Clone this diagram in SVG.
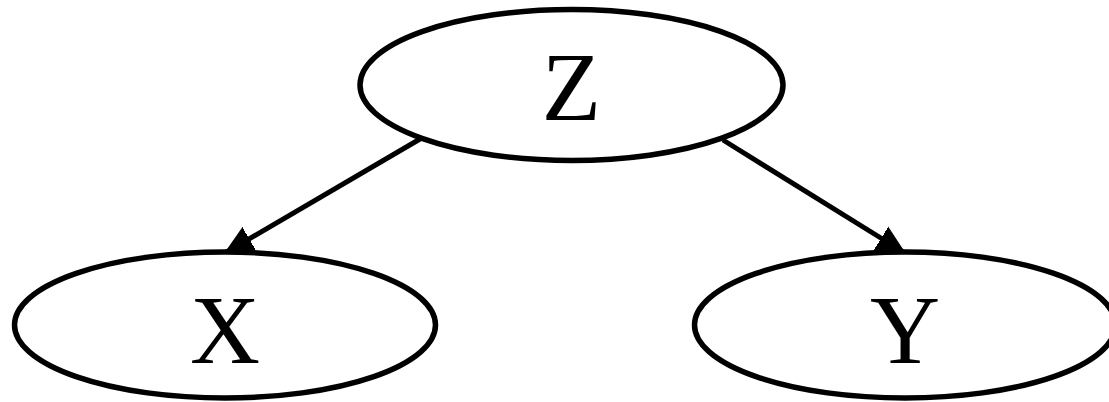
<svg xmlns="http://www.w3.org/2000/svg" width="1109" height="402" viewBox="0 0 1109 402">
<style>
.node ellipse{fill:#fff;stroke:#000;stroke-width:5.5}
.node text{font-family:"Liberation Serif","Times New Roman",serif;font-size:97px;fill:#000;text-anchor:middle}
.edge{stroke:#000;stroke-width:5;fill:none}
</style>
<defs>
<marker id="arrow" markerUnits="userSpaceOnUse" markerWidth="30" markerHeight="30" viewBox="0 -14 30 28" refX="28" refY="0" orient="auto">
<path d="M0,-13 L28,0 L0,13 z" fill="#000" stroke="#000" stroke-width="1"/>
</marker>
</defs>
<rect width="1109" height="402" fill="#fff"/>
<g id="edges">
<line class="edge" x1="420" y1="139" x2="225" y2="253" marker-end="url(#arrow)"/>
<line class="edge" x1="723" y1="140" x2="905" y2="253" marker-end="url(#arrow)"/>
</g>
<g id="node-Z" class="node">
<ellipse cx="571.5" cy="85" rx="211.5" ry="75.5"/>
<text x="571.5" y="120">Z</text>
</g>
<g id="node-X" class="node">
<ellipse cx="225" cy="325" rx="210.5" ry="73"/>
<text x="225" y="363">X</text>
</g>
<g id="node-Y" class="node">
<ellipse cx="905" cy="325" rx="210.5" ry="73"/>
<text x="905" y="363">Y</text>
</g>
</svg>
